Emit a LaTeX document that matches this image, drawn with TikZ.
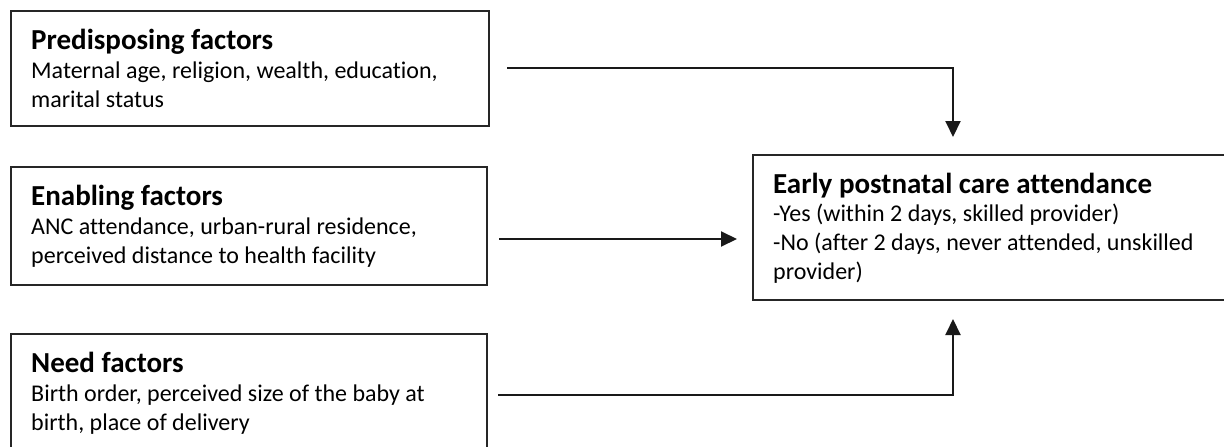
\documentclass[tikz,border=0pt]{standalone}
\usepackage{fontspec}
\setmainfont{Carlito}[Ligatures=NoCommon]
\usetikzlibrary{arrows.meta}
\begin{document}
\begin{tikzpicture}[x=1pt,y=-1pt,
  box/.style={draw=black!85, line width=1.5pt, rectangle, inner sep=0pt, anchor=north west},
  ttl/.style={anchor=base west, inner sep=0pt, font=\fontsize{29pt}{35pt}\selectfont\bfseries},
  txt/.style={anchor=base west, inner sep=0pt, font=\fontsize{24pt}{29pt}\selectfont},
  conn/.style={line width=2pt, black!90, -{Triangle[width=15pt,length=16pt]}}]
\useasboundingbox (0,0) rectangle (1224,447);
% boxes
\node[box, minimum width=478pt, minimum height=115pt] (pre) at (10,10) {};
\node[box, minimum width=476pt, minimum height=118pt] (ena) at (10,166) {};
\node[box, minimum width=476pt, minimum height=118pt] (need) at (10,333) {};
\node[box, minimum width=478pt, minimum height=145pt] (out) at (752,154) {};
% texts
\node[ttl] (pre-t) at (31,49) {Predisposing factors};
\node[txt] (pre-1) at (31,78) {Maternal age, religion, wealth, education,};
\node[txt] (pre-2) at (31,107) {marital status};
\node[ttl] (ena-t) at (31,205) {Enabling factors};
\node[txt] (ena-1) at (31,234) {ANC attendance, urban-rural residence,};
\node[txt] (ena-2) at (31,263) {perceived distance to health facility};
\node[ttl] (need-t) at (31,372) {Need factors};
\node[txt] (need-1) at (31,401) {Birth order, perceived size of the baby at};
\node[txt] (need-2) at (31,430) {birth, place of delivery};
\node[ttl] (out-t) at (773,193) {Early postnatal care attendance};
\node[txt] (out-1) at (773,221) {-Yes (within 2 days, skilled provider)};
\node[txt] (out-2) at (773,250) {-No (after 2 days, never attended, unskilled};
\node[txt] (out-3) at (773,279) {provider)};
% connector ends
\coordinate (s1) at (507,67.5);
\coordinate (e1) at (953,137);
\coordinate (s2) at (499,239);
\coordinate (e2) at (737,239);
\coordinate (s3) at (498,395);
\coordinate (e3) at (953,319);
\draw[conn] (s1) -| (e1);
\draw[conn] (s2) -- (e2);
\draw[conn] (s3) -| (e3);
\end{tikzpicture}
\end{document}
